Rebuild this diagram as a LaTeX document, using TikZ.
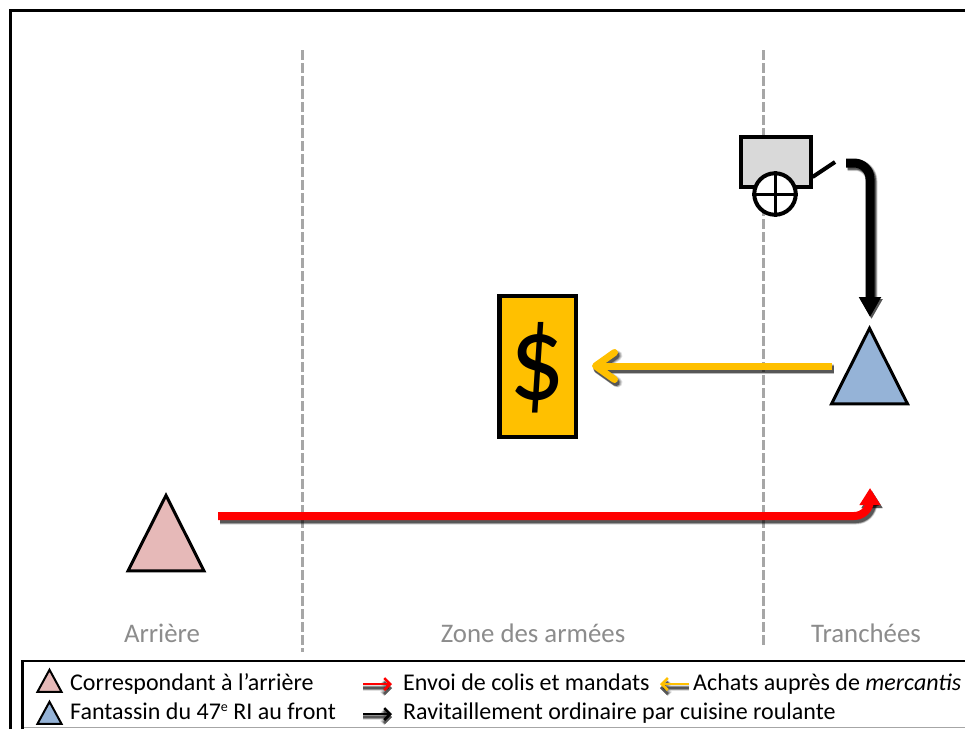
\documentclass[tikz,border=0pt]{standalone}
\usepackage{fontspec}
\setmainfont{Carlito}
\usetikzlibrary{arrows.meta,shapes.geometric}
\definecolor{zonegray}{HTML}{A6A6A6}
\definecolor{labelgray}{HTML}{8C8C8C}
\definecolor{cartgray}{HTML}{D9D9D9}
\definecolor{gold}{HTML}{FFC000}
\definecolor{pinkt}{HTML}{E6B9B8}
\definecolor{bluet}{HTML}{95B3D7}
\newcommand{\softline}[5]{% colour, width, tip, offset, path
  \foreach \extra/\op in {3/.12,2/.16,1/.22,0/.40}{
    \draw[black,opacity=\op,line width=#2pt+\extra pt,#3,transform canvas={shift={(#4)}},rounded corners=16pt] #5;
  }
  \draw[#1,line width=#2pt,#3,rounded corners=16pt] #5;
}
\tikzset{
  tri/.style={draw=black,line width=#1,isosceles triangle,isosceles triangle apex angle=53,
    isosceles triangle stretches,shape border rotate=90,inner sep=0pt,anchor=apex},
  zoneline/.style={draw=zonegray,line width=3pt,dash pattern=on 10pt off 3pt},
  zonelabel/.style={text=labelgray,font=\fontsize{26.8}{30}\selectfont,anchor=base},
  legendtext/.style={font=\fontsize{24}{28}\selectfont,anchor=base west,inner sep=0pt},
  redtip/.style={-{Triangle[length=17pt,width=20pt]}},
  blacktip/.style={-{Triangle[length=20pt,width=21pt]}},
  goldtip/.style={-{Straight Barb[length=19pt,width=27pt,line cap=round,round]}},
  smallredtip/.style={-{Straight Barb[length=6pt,width=12pt]}},
}
\begin{document}
\begin{tikzpicture}[x=1pt,y=-1pt]
\useasboundingbox (0,0) rectangle (965,729);
\fill[white] (0,0) rectangle (965,729);
% frame
\draw[black,line width=2.5pt] (10.5,729) -- (10.5,10.5) -- (965,10.5);
% zones
\coordinate (z1t) at (302,50); \coordinate (z1b) at (302,652);
\coordinate (z2t) at (763,50); \coordinate (z2b) at (763,648);
\draw[zoneline] (z1t) -- (z1b);
\draw[zoneline] (z2t) -- (z2b);
\node[zonelabel] (arriere) at (162,642) {Arrière};
\node[zonelabel] (zone) at (533,642) {Zone des armées};
\node[zonelabel] (tranchees) at (866,642) {Tranchées};
% cart
\node[draw=black,fill=cartgray,line width=4pt,minimum width=70pt,minimum height=50pt,inner sep=0pt] (cart) at (775.5,162) {};
\coordinate (handle) at (835,162);
\draw[black,line width=4pt] (cart.east |- 0,177) -- (handle);
\node[circle,draw=black,fill=white,line width=4pt,minimum size=41.5pt,inner sep=0pt] (wheel) at (775,194) {};
\draw[black,line width=3pt] (wheel.north) -- (wheel.south);
\draw[black,line width=3pt] (wheel.west) -- (wheel.east);
% dollar
\node[draw=black,fill=gold,line width=4.5pt,minimum width=76.5pt,minimum height=141pt,inner sep=0pt] (dollar) at (537.7,366.5) {};
\node[font=\fontsize{122}{130}\selectfont,inner sep=0pt,xscale=.9] (dsign) at (537,368) {\$};
% triangles
\node[tri=3pt,fill=bluet,minimum height=75.5pt,minimum width=76pt] (fant) at (869.5,325) {};
\node[tri=3pt,fill=pinkt,minimum height=75.5pt,minimum width=76pt] (corr) at (166,492) {};
% connectors
\coordinate (ys) at (832,366); \coordinate (ye) at (592,366);
\softline{gold}{7}{goldtip}{1.5,3}{(ys) -- (ye)}
\coordinate (rs) at (218,516); \coordinate (rc) at (870,516); \coordinate (re) at (870,488);
\softline{red}{8}{redtip}{2,3}{(rs) -- (rc) -- (re)}
\coordinate (bs) at (846,163); \coordinate (bc) at (870,163); \coordinate (be) at (870,317);
\softline{black}{9}{blacktip}{1.5,2}{(bs) -- (bc) -- (be)}
% legend box
\draw[zonegray,line width=1.5pt] (22,727.5) -- (965,727.5);
\draw[black,line width=2.5pt] (22.5,729) -- (22.5,661) -- (965,661);
\node[tri=2pt,fill=pinkt,minimum height=22pt,minimum width=24pt] (lcorr) at (49.5,667.5) {};
\node[tri=2pt,fill=bluet,minimum height=22pt,minimum width=24pt] (lfant) at (49.5,699.5) {};
\node[legendtext] (t1) at (70,690) {Correspondant à l’arrière};
\node[legendtext] (t2) at (70,719) {Fantassin du 47\raisebox{8pt}{\fontsize{14}{14}\selectfont e} RI au front};
\node[legendtext] (t3) at (403,690) {Envoi de colis et mandats};
\node[legendtext] (t4) at (693,690) {Achats auprès de \textit{mercantis}};
\node[legendtext] (t5) at (403,719) {Ravitaillement ordinaire par cuisine roulante};
\coordinate (lrs) at (363,684); \coordinate (lre) at (392,684);
\coordinate (lys) at (689,684); \coordinate (lye) at (660,684);
\coordinate (lbs) at (363,714); \coordinate (lbe) at (392,714);
\softline{red}{2.5}{smallredtip}{0,4}{(lrs) -- (lre)}
\softline{gold}{2.5}{smallredtip}{0,4}{(lys) -- (lye)}
\softline{black}{2.5}{smallredtip}{0,3}{(lbs) -- (lbe)}
\end{tikzpicture}
\end{document}
